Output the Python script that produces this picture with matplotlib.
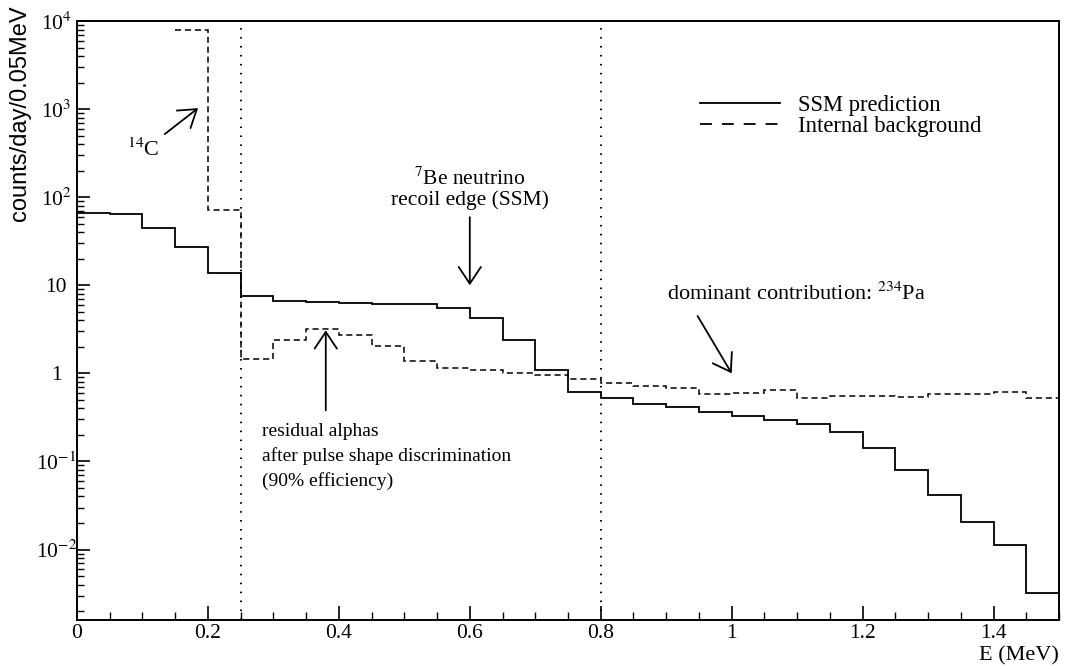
import numpy as np
import matplotlib
matplotlib.use("Agg")
import matplotlib.pyplot as plt
from matplotlib.lines import Line2D

plt.rcParams['font.family'] = ['Liberation Serif', 'DejaVu Serif']
plt.rcParams['mathtext.fontset'] = 'stix'

# ---- data ----
bin_width = 0.05
ssm_start = 0.0
ssm_values = [66, 65, 44.8, 27, 13.8, 7.6, 6.6, 6.4, 6.3, 6.2,
              6.1, 5.5, 4.3, 2.4, 1.08, 0.62, 0.52, 0.45, 0.41, 0.36,
              0.33, 0.295, 0.265, 0.215, 0.143, 0.080, 0.042, 0.0208, 0.0114, 0.0032]
bkg_start = 0.15
bkg_values = [8000, 72, 1.47, 2.4, 3.2, 2.75, 2.03, 1.38, 1.15, 1.08,
              1.0, 0.97, 0.87, 0.78, 0.72, 0.69, 0.59, 0.60, 0.65, 0.52,
              0.56, 0.56, 0.54, 0.58, 0.58, 0.62, 0.52]
window_edges = [0.25, 0.8]
ytick_values = [1e-2, 1e-1, 1, 10, 1e2, 1e3, 1e4]
ytick_labels = ['10$^{-2}$', '10$^{-1}$', '1', '10', '10$^{2}$', '10$^{3}$', '10$^{4}$']
xtick_values = [0, 0.2, 0.4, 0.6, 0.8, 1.0, 1.2, 1.4]
xtick_labels = ['0', '0.2', '0.4', '0.6', '0.8', '1', '1.2', '1.4']

ssm_edges = ssm_start + bin_width * np.arange(len(ssm_values) + 1)
bkg_edges = bkg_start + bin_width * np.arange(len(bkg_values) + 1)

fig = plt.figure(figsize=(10.68, 6.69), dpi=100)
ax = fig.add_axes([77/1068, 1-620/669, (1059-77)/1068, (620-21)/669])

ax.stairs(ssm_values, ssm_edges, color='black', lw=1.3, baseline=None)
ax.stairs(bkg_values, bkg_edges, color='black', lw=1.1, baseline=None,
          linestyle=(0, (4, 2.5)))
for xe in window_edges:
    ax.axvline(xe, color='black', lw=1.4, linestyle=(0, (0.8, 3.8)))

ax.set_yscale('log')
ax.set_xlim(0, 1.5)
ax.set_ylim(10**-2.8, 1e4)

ax.set_yticks(ytick_values)
ax.set_yticklabels(ytick_labels)
ax.yaxis.set_minor_locator(matplotlib.ticker.LogLocator(base=10, subs=np.arange(2, 10)))
ax.yaxis.set_minor_formatter(matplotlib.ticker.NullFormatter())
ax.set_xticks(xtick_values)
ax.set_xticklabels(xtick_labels)
ax.xaxis.set_minor_locator(matplotlib.ticker.MultipleLocator(0.05))

ax.tick_params(axis='both', which='both', direction='in', top=False, right=False)
ax.tick_params(axis='y', which='major', length=9, width=1.2, labelsize=15.5, pad=15)
ax.tick_params(axis='y', which='minor', length=5, width=1.0)
ax.tick_params(axis='x', which='major', length=10, width=1.2, labelsize=15.5, pad=3)
ax.tick_params(axis='x', which='minor', length=6, width=1.0)
for lab in ax.get_yticklabels():
    lab.set_horizontalalignment('center')
for sp in ax.spines.values():
    sp.set_linewidth(1.4)

fig.text(20/1068, 1-5/669, 'counts/day/0.05MeV', rotation=90, ha='center', va='top',
         fontsize=17, family=['Liberation Sans', 'DejaVu Sans'])
fig.text(1059/1068, 1-646/669, 'E (MeV)', ha='right', va='top', fontsize=16)

arrow_kw = dict(arrowstyle='->, head_length=0.3, head_width=0.2', lw=1.3,
                color='black', mutation_scale=40, shrinkA=0, shrinkB=0)

ax.text(0.0763, 10**2.534, '$^{14}$C', fontsize=16, ha='left', va='center')
ax.annotate('', xy=(0.185, 10**3.011), xytext=(0.134, 10**2.716), arrowprops=arrow_kw)

ax.text(0.6, 10**2.091, '$^{7}$Be neutrino\nrecoil edge (SSM)', fontsize=15.5,
        ha='center', va='center', linespacing=1.05)
ax.annotate('', xy=(0.6, 10**1.0), xytext=(0.6, 10**1.773), arrowprops=arrow_kw)

ax.text(0.2824, 10**-0.943, 'residual alphas\nafter pulse shape discrimination\n(90% efficiency)',
        fontsize=14, ha='left', va='center', linespacing=1.5)
ax.annotate('', xy=(0.38, 10**0.489), xytext=(0.38, 10**-0.42), arrowprops=arrow_kw)

ax.text(0.9008, 10**0.909, 'dominant contribution: $^{234}$Pa', fontsize=16, ha='left', va='center')
ax.annotate('', xy=(1.0, 10**0.0), xytext=(0.948, 10**0.65), arrowprops=arrow_kw)

handles = [Line2D([], [], color='black', lw=1.3),
           Line2D([], [], color='black', lw=1.3, linestyle=(0, (6.6, 5.5)))]
ax.legend(handles, ['SSM prediction', 'Internal background'], loc='upper left',
          bbox_to_anchor=(0.6344, 0.876), frameon=False, fontsize=16.3,
          handlelength=3.54, handletextpad=0.8, labelspacing=-0.02, borderaxespad=0,
          borderpad=0)

fig.savefig('out.png', dpi=100)
